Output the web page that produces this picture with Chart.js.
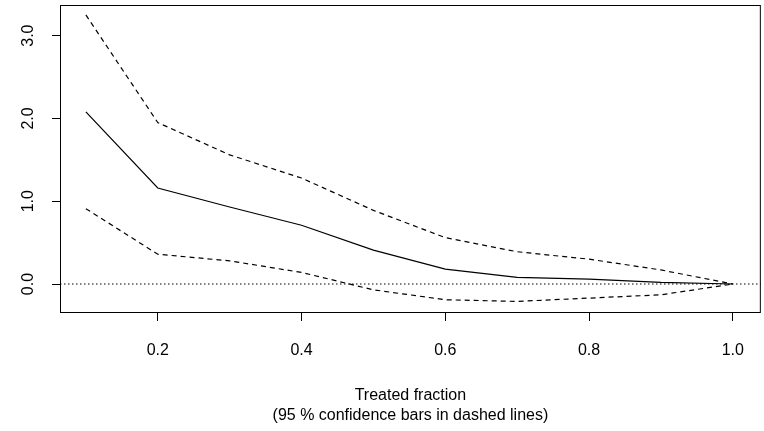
<!DOCTYPE html>
<html><head><script src="https://cdn.jsdelivr.net/npm/chart.js@4"></script>
<style>html,body{margin:0;padding:0;background:#fff}#w{width:764px;height:431px}</style></head>
<body><div id="w"><canvas id="c"></canvas></div>
<script>
const fractions=[0.1,0.2,0.3,0.4,0.5,0.6,0.7,0.8,0.9,1.0];
const estimate=[2.08,1.16,0.93,0.71,0.41,0.18,0.08,0.06,0.02,0];
const upper=[3.25,1.95,1.56,1.28,0.89,0.56,0.39,0.30,0.17,0];
const lower=[0.91,0.36,0.28,0.14,-0.07,-0.19,-0.21,-0.17,-0.13,0];
const xTicks=[0.2,0.4,0.6,0.8,1.0];
const yTicks=[0,1,2,3];
const xTitle=["Treated fraction","(95 % confidence bars in dashed lines)"];
const pts=a=>a.map((v,i)=>({x:fractions[i],y:v}));
const F="'Liberation Sans', Arial, sans-serif";
const box={id:'box',afterDraw(c){const a=c.chartArea,g=c.ctx;g.save();g.strokeStyle='#000';g.lineWidth=1;g.strokeRect(a.left+0.5,a.top+0.5,a.right-a.left-1,a.bottom-a.top-1);
g.fillStyle='#000';g.font='16px '+F;g.textAlign='center';g.textBaseline='middle';const cx=(a.left+a.right)/2;g.fillText(xTitle[0],cx,396);g.fillText(xTitle[1],cx,416);
const ys=c.scales.y;yTicks.forEach(v=>{g.save();g.translate(29,ys.getPixelForValue(v));g.rotate(-Math.PI/2);g.fillText(v.toFixed(1),0,0);g.restore();});
g.restore();}};
new Chart(document.getElementById('c'),{type:'scatter',
data:{datasets:[
{data:pts(estimate),showLine:true,borderColor:'#000',borderWidth:1.2,pointRadius:0,tension:0},
{data:pts(upper),showLine:true,borderColor:'#000',borderWidth:1.2,borderDash:[5,4],pointRadius:0},
{data:pts(lower),showLine:true,borderColor:'#000',borderWidth:1.2,borderDash:[5,4],pointRadius:0},
{data:[{x:0.064,y:0},{x:1.039,y:0}],showLine:true,borderColor:'#000',borderWidth:1.2,borderDash:[1.5,2.5],pointRadius:0}
]},
options:{responsive:true,maintainAspectRatio:false,animation:false,
layout:{padding:{top:5,right:2,left:0,bottom:0}},
plugins:{legend:{display:false},tooltip:{enabled:false}},
scales:{
x:{type:'linear',min:0.064,max:1.039,afterBuildTicks:s=>{s.ticks=xTicks.map(v=>({value:v}))},
 afterFit:s=>{s.height=118},border:{display:false},
 grid:{drawOnChartArea:false,tickLength:8,color:'#000'},
 ticks:{color:'#000',font:{size:16,family:F},padding:20,callback:v=>v.toFixed(1),maxRotation:0}},
y:{min:-0.35,max:3.37,afterBuildTicks:s=>{s.ticks=yTicks.map(v=>({value:v}))},
 afterFit:s=>{s.width=60},border:{display:false},
 grid:{drawOnChartArea:false,tickLength:8,color:'#000'},
 ticks:{color:'#000',font:{size:1,family:F},padding:0,callback:()=>''}}
}},plugins:[box]});
</script></body></html>
